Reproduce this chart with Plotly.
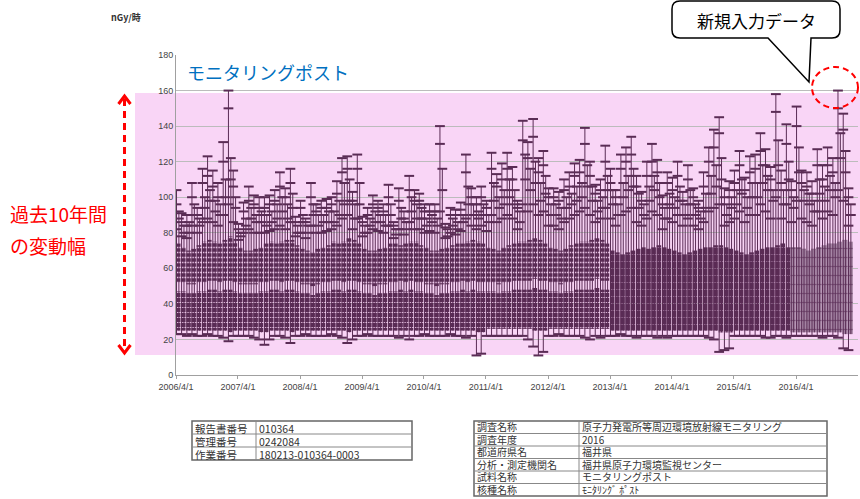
import pandas as pd
import plotly.graph_objects as go

# ---- monthly records, one row per fiscal year (Apr .. Mar), nGy/h ----
month_max = [
    104, 91, 90, 108, 94, 116, 123, 115, 108, 131, 160, 115,   # FY2006
    85, 97, 106, 101, 100, 100, 101, 104, 114, 105, 116, 89,    # FY2007
    98, 88, 108, 96, 98, 99, 100, 109, 122, 123, 103, 124,      # FY2008
    89, 94, 101, 98, 96, 107, 86, 105, 92, 112, 104, 102,       # FY2009
    96, 96, 96, 140, 85, 94, 93, 97, 124, 105, 100, 106,        # FY2010
    98, 125, 113, 119, 125, 117, 98, 143, 131, 144, 122, 126,   # FY2011
    105, 105, 103, 110, 114, 119, 121, 139, 120, 107, 110, 129, # FY2012
    116, 104, 124, 128, 134, 112, 103, 120, 130, 121, 101, 114, # FY2013
    111, 120, 103, 118, 105, 98, 114, 128, 138, 145, 105, 109,  # FY2014
    115, 126, 111, 123, 124, 136, 127, 117, 158, 115, 141, 109, # FY2015
    151, 115, 114, 109, 127, 118, 128, 122, 160, 147, 105,      # FY2016
]
month_min = [
    23, 23, 22, 23, 22, 22, 23, 22, 22, 21, 19, 22,
    22, 22, 22, 21, 20, 17, 20, 22, 22, 21, 18, 22,
    22, 23, 22, 22, 22, 22, 23, 22, 21, 18, 20, 22,
    22, 23, 22, 22, 22, 22, 22, 21, 22, 20, 22, 22,
    23, 22, 22, 22, 22, 23, 22, 22, 21, 22, 11, 12,
    22, 22, 22, 22, 22, 22, 22, 22, 20, 16, 11, 13,
    22, 22, 23, 22, 22, 22, 22, 21, 20, 22, 21, 22,
    22, 22, 23, 22, 22, 21, 22, 22, 22, 21, 22, 21,
    22, 22, 22, 22, 22, 22, 22, 21, 20, 13, 14, 15,
    22, 22, 22, 22, 22, 22, 21, 21, 22, 22, 21, 22,
    22, 22, 22, 22, 22, 21, 22, 22, 21, 15, 14,
]
# secondary station maxima (mid-month whiskers)
second_max = [
    92, 84, 86, 96, 88, 100, 104, 98, 96, 110, 122, 100,
    80, 88, 94, 90, 92, 90, 92, 96, 100, 96, 102, 84,
    90, 84, 96, 90, 90, 92, 92, 98, 108, 110, 96, 108,
    84, 88, 92, 90, 90, 96, 82, 94, 86, 100, 96, 94,
    88, 90, 88, 116, 82, 88, 86, 90, 106, 96, 92, 96,
    90, 108, 100, 104, 110, 104, 92, 124, 116, 120, 108, 112,
    96, 96, 94, 100, 102, 106, 108, 118, 106, 98, 100, 112,
    104, 96, 108, 112, 116, 102, 96, 106, 112, 108, 94, 102,
    100, 106, 96, 104, 96, 92, 102, 112, 118, 122, 96, 100,
    104, 110, 100, 108, 108, 118, 112, 104, 132, 104, 120, 100,
    128, 104, 102, 98, 110, 106, 112, 108, 136, 126, 96,
]
# intermediate caps along the main whiskers
third_max = [
    96, 86, 84, 100, 90, 108, 112, 106, 100, 120, 150, 106,
    82, 92, 98, 96, 94, 94, 96, 98, 106, 100, 108, 86,
    94, 86, 100, 92, 94, 94, 96, 102, 114, 116, 98, 116,
    86, 90, 96, 94, 92, 100, 84, 98, 88, 104, 98, 98,
    92, 92, 92, 130, 83, 90, 90, 93, 114, 100, 96, 100,
    94, 116, 106, 110, 116, 110, 94, 132, 122, 134, 114, 118,
    100, 100, 98, 104, 106, 112, 114, 130, 112, 102, 104, 120,
    108, 100, 116, 120, 124, 106, 98, 112, 120, 114, 96, 108,
    104, 112, 98, 110, 100, 94, 106, 120, 128, 136, 100, 104,
    108, 118, 104, 114, 116, 126, 118, 110, 148, 108, 130, 104,
    140, 108, 106, 102, 118, 110, 118, 114, 150, 138, 100,
]
# further station maxima just above the dense band
upper_cap_a = [
    88, 80, 80, 90, 84, 94, 98, 92, 90, 100, 110, 94,
    78, 84, 88, 86, 86, 84, 86, 88, 92, 88, 94, 80,
    86, 80, 90, 84, 86, 86, 86, 90, 96, 98, 88, 96,
    80, 84, 86, 86, 84, 90, 79, 88, 82, 92, 88, 88,
    84, 86, 84, 104, 78, 84, 82, 86, 96, 90, 88, 90,
    86, 98, 94, 96, 100, 96, 86, 110, 104, 108, 98, 102,
    90, 90, 88, 94, 96, 98, 100, 106, 98, 92, 94, 104,
    96, 90, 100, 104, 106, 94, 90, 98, 104, 100, 88, 96,
    94, 98, 90, 96, 90, 88, 94, 102, 106, 110, 90, 94,
    96, 102, 94, 100, 100, 108, 104, 98, 118, 96, 110, 94,
    114, 98, 96, 92, 102, 98, 104, 100, 122, 114, 90,
]
upper_cap_b = [
    82, 78, 77, 84, 80, 86, 88, 86, 84, 90, 96, 86,
    76, 80, 82, 80, 80, 80, 81, 82, 84, 82, 86, 78,
    80, 77, 84, 80, 80, 81, 82, 84, 88, 90, 82, 88,
    78, 80, 82, 81, 80, 84, 77, 82, 79, 86, 82, 82,
    80, 81, 80, 92, 77, 80, 79, 81, 88, 84, 82, 84,
    81, 90, 86, 88, 90, 88, 82, 96, 92, 96, 90, 92,
    84, 84, 82, 86, 88, 90, 92, 94, 90, 86, 88, 94,
    88, 84, 90, 92, 94, 86, 84, 88, 92, 90, 82, 88,
    86, 90, 84, 88, 84, 82, 86, 92, 94, 96, 84, 86,
    88, 92, 86, 90, 90, 96, 92, 88, 100, 88, 96, 86,
    98, 88, 86, 84, 92, 88, 92, 90, 104, 98, 84,
]
# dense band of station readings: floor and ceiling
bulk_floor = [
    25, 25, 25, 25, 25, 25, 25, 25, 25, 25, 24, 25,
    25, 25, 25, 25, 24, 24, 25, 25, 25, 25, 24, 25,
    25, 25, 25, 25, 25, 25, 25, 25, 25, 24, 25, 25,
    25, 25, 25, 25, 25, 25, 25, 25, 25, 25, 25, 25,
    25, 25, 25, 25, 25, 25, 25, 25, 25, 25, 24, 24,
    26, 26, 26, 26, 26, 26, 26, 26, 26, 25, 25, 25,
    26, 26, 26, 26, 26, 26, 26, 26, 26, 26, 26, 26,
    25, 25, 25, 25, 25, 25, 25, 25, 25, 25, 25, 25,
    25, 25, 25, 25, 25, 25, 25, 25, 25, 24, 24, 24,
    25, 25, 25, 25, 25, 25, 25, 25, 25, 25, 25, 24,
    24, 24, 24, 24, 24, 24, 24, 24, 24, 23, 23,
]
bulk_ceiling = [
    74, 72, 70, 71, 73, 75, 76, 75, 74, 76, 78, 75,
    72, 70, 70, 71, 72, 74, 75, 74, 75, 76, 76, 73,
    71, 70, 69, 71, 72, 73, 75, 74, 75, 77, 76, 74,
    71, 70, 70, 71, 72, 74, 74, 73, 74, 75, 75, 73,
    72, 70, 70, 71, 72, 73, 74, 74, 75, 76, 75, 74,
    72, 71, 70, 72, 73, 74, 75, 75, 76, 77, 76, 74,
    72, 71, 70, 71, 73, 74, 75, 75, 76, 77, 76, 74,
    70, 69, 68, 69, 70, 71, 72, 71, 72, 73, 72, 71,
    70, 69, 68, 69, 70, 71, 72, 72, 73, 73, 72, 71,
    70, 69, 68, 69, 70, 71, 72, 72, 73, 74, 72, 72,
    72, 71, 70, 71, 72, 73, 74, 74, 75, 76, 75,
]
# thinner stretch inside the band (until FY2012)
gap_low = [
    47, 47, 46, 46, 47, 47, 48, 48, 47, 48, 48, 47,
    46, 46, 46, 46, 47, 47, 48, 48, 47, 48, 48, 47,
    46, 46, 45, 46, 47, 47, 48, 48, 47, 48, 48, 47,
    46, 46, 45, 46, 46, 47, 47, 48, 47, 48, 47, 47,
    46, 46, 45, 46, 46, 47, 47, 48, 47, 48, 47, 47,
    47, 47, 46, 47, 47, 48, 48, 48, 48, 49, 48, 48,
    47, 47, 46, 47, 47, 48, 48, 48, 48, 49, 48, 48,
]
gap_high = [
    52, 52, 51, 51, 52, 52, 53, 53, 52, 53, 53, 52,
    51, 51, 51, 51, 52, 52, 53, 53, 52, 53, 53, 52,
    51, 51, 50, 51, 52, 52, 53, 53, 52, 53, 53, 52,
    51, 51, 50, 51, 51, 52, 52, 53, 52, 53, 52, 52,
    51, 51, 50, 51, 51, 52, 52, 53, 52, 53, 52, 52,
    52, 52, 51, 52, 52, 53, 53, 53, 53, 54, 53, 53,
    52, 52, 51, 52, 52, 53, 53, 53, 53, 54, 53, 53,
]

year_ticks = ["2006-04-01", "2007-04-01", "2008-04-01", "2009-04-01", "2010-04-01",
              "2011-04-01", "2012-04-01", "2013-04-01", "2014-04-01", "2015-04-01",
              "2016-04-01"]
year_labels = ["2006/4/1", "2007/4/1", "2008/4/1", "2009/4/1", "2010/4/1", "2011/4/1",
               "2012/4/1", "2013/4/1", "2014/4/1", "2015/4/1", "2016/4/1"]

report_labels = ["報告書番号", "管理番号", "作業番号"]
report_values = ["010364", "0242084", "180213-010364-0003"]
survey_labels = ["調査名称", "調査年度", "都道府県名", "分析・測定機関名", "試料名称", "核種名称"]
survey_values = ["原子力発電所等周辺環境放射線モニタリング", "2016", "福井県",
                 "福井県原子力環境監視センター", "モニタリングポスト", "ﾓﾆﾀﾘﾝｸﾞ ﾎﾟｽﾄ"]

# ---- styling ----
DARK = "#5a2c55"
LIGHT = "#a383a2"
PINK = "#f9d5f6"
GRID = "#bcbcbc"
JP = "Noto Sans CJK JP"
LAT = "Liberation Sans"
ERA_SOLID = pd.Timestamp("2013-04-01")
ERA_LIGHT = pd.Timestamp("2016-03-01")

W, H = 860, 499
L, R, T, B = 176, 2, 55, 124
PW, PH = W - L - R, H - T - B


def px(x):
    return (x - L) / PW


def py(y):
    return (H - B - y) / PH


months = pd.date_range("2006-04-01", periods=len(month_max), freq="MS")
ds = lambda d: d.strftime("%Y-%m-%d")
bar_x = [ds(m + pd.Timedelta(days=13)) for m in months]
mid_x = [ds(m + pd.Timedelta(days=17)) for m in months]
main_x = [ds(m + pd.Timedelta(days=3)) for m in months]
bar_w = 27 * 86400000
full_w = 31 * 86400000

fig = go.Figure()


def band(idx, base, top, color, fg, solidity, size, width=bar_w):
    fig.add_trace(go.Bar(
        x=[bar_x[i] for i in idx],
        base=[base[i] for i in idx],
        y=[top[i] - base[i] for i in idx],
        width=width,
        marker=dict(color=color, line=dict(width=0),
                    pattern=dict(shape="-", fgcolor=fg, bgcolor=color,
                                 size=size, solidity=solidity, fillmode="replace")),
        hoverinfo="skip", showlegend=False))


era_a = [i for i, m in enumerate(months) if m < ERA_SOLID]
era_b = [i for i, m in enumerate(months) if ERA_SOLID <= m < ERA_LIGHT]
era_c = [i for i, m in enumerate(months) if m >= ERA_LIGHT]

band(era_a, bulk_floor, gap_low, DARK, "#e6bfe2", 0.18, 5)
band(era_a, gap_high, bulk_ceiling, DARK, "#e6bfe2", 0.3, 5)
band(era_b, bulk_floor, bulk_ceiling, DARK, "#d9b0d5", 0.06, 7)

# whiskers
wx, wy = [], []
for i in range(len(months)):
    wx += [main_x[i], main_x[i], None, mid_x[i], mid_x[i], None]
    wy += [month_min[i], month_max[i], None, bulk_floor[i], second_max[i], None]
fig.add_trace(go.Scatter(x=wx, y=wy, mode="lines", line=dict(color=DARK, width=1),
                         hoverinfo="skip", showlegend=False))

# latest months: lighter block drawn over its whiskers
band(era_c, bulk_floor, bulk_ceiling, LIGHT, "#7a5378", 0.14, 9, width=full_w)

# caps
cx = main_x * 4 + mid_x * 2
cy = month_max + third_max + month_min + upper_cap_b + second_max + upper_cap_a
fig.add_trace(go.Scatter(x=cx, y=cy, mode="markers",
                         marker=dict(symbol="line-ew", size=7, color=DARK,
                                     line=dict(color=DARK, width=2)),
                         hoverinfo="skip", showlegend=False))

shapes = []
annotations = []


def note(x, y, text, size, color, xanchor="left", family=JP, height=None):
    ann = dict(xref="paper", yref="paper", x=px(x), y=py(y), text=text,
               xanchor=xanchor, yanchor="middle", showarrow=False,
               borderpad=0, font=dict(family=family, size=size, color=color))
    if height:
        ann["height"] = height
    annotations.append(ann)


# pink range band
shapes.append(dict(type="rect", xref="paper", yref="paper", layer="below",
                   x0=px(135), x1=px(860), y0=py(355), y1=py(93),
                   fillcolor=PINK, line=dict(width=0)))

# red dashed double arrow
shapes.append(dict(type="line", xref="paper", yref="paper",
                   x0=px(124.5), x1=px(124.5), y0=py(99), y1=py(350),
                   line=dict(color="#ff0000", width=3, dash="7px,5px")))
for tip, back in ((96, 104), (353, 345)):
    shapes.append(dict(type="path", xref="paper", yref="paper",
                       path=f"M{px(118.5)},{py(back)} L{px(124.5)},{py(tip)} L{px(130.5)},{py(back)}",
                       line=dict(color="#ff0000", width=3)))

# red dashed circle around the newest reading
shapes.append(dict(type="circle", xref="paper", yref="paper",
                   x0=px(812), x1=px(858), y0=py(108), y1=py(67),
                   line=dict(color="#ff0000", width=2, dash="6px,4px")))


# callout balloon
def P(x, y):
    return f"{px(x):.5f},{py(y):.5f}"


balloon = (f"M{P(680, 1)} L{P(832, 1)} Q{P(840, 1)} {P(840, 9)} L{P(840, 30)} "
           f"Q{P(840, 38)} {P(832, 38)} L{P(811, 38)} L{P(809, 82)} L{P(768, 38)} "
           f"L{P(680, 38)} Q{P(672, 38)} {P(672, 30)} L{P(672, 9)} Q{P(672, 1)} {P(680, 1)} Z")
shapes.append(dict(type="path", xref="paper", yref="paper", path=balloon,
                   fillcolor="white", line=dict(color="black", width=1.5)))
note(756, 20, "新規入力データ", 17, "black", xanchor="center")

note(186, 72, "モニタリングポスト", 18, "#0070c0")
note(9, 213, "過去10年間", 19, "#ff0000")
note(9, 245, "の変動幅", 19, "#ff0000")
note(110, 17, "<b>nGy/時</b>", 9, "#333333")


def table(x0, x1, xdiv, y0, row_h, labels, values, size):
    y1 = y0 + row_h * len(labels)
    shapes.append(dict(type="rect", xref="paper", yref="paper",
                       x0=px(x0), x1=px(x1), y0=py(y1), y1=py(y0),
                       line=dict(color="#666666", width=1.5)))
    shapes.append(dict(type="line", xref="paper", yref="paper",
                       x0=px(xdiv), x1=px(xdiv), y0=py(y1), y1=py(y0),
                       line=dict(color="#888888", width=1)))
    for i, (lab, val) in enumerate(zip(labels, values)):
        yc = y0 + row_h * (i + 0.5)
        if i:
            yl = y0 + row_h * i
            shapes.append(dict(type="line", xref="paper", yref="paper",
                               x0=px(x0), x1=px(x1), y0=py(yl), y1=py(yl),
                               line=dict(color="#888888", width=1)))
        note(x0 + 2, yc, lab, size, "#333333", height=row_h - 1)
        note(xdiv + 2, yc, val, size, "#333333", height=row_h - 1)


table(192, 412, 256, 421, 13, report_labels, report_values, 10.5)
table(474, 827, 579, 421, 12.5, survey_labels, survey_values, 10)

fig.update_layout(
    width=W, height=H, margin=dict(l=L, r=R, t=T, b=B, autoexpand=False),
    paper_bgcolor="white", plot_bgcolor="rgba(0,0,0,0)",
    barmode="overlay", showlegend=False,
    shapes=shapes, annotations=annotations,
    xaxis=dict(type="date", range=["2006-04-01", "2017-04-01"],
               tickvals=year_ticks, ticktext=year_labels, showgrid=False,
               showline=True, linecolor="#a0a0a0", linewidth=1,
               ticks="outside", ticklen=3, tickcolor="#a0a0a0",
               tickfont=dict(family=LAT, size=9, color="#444444")),
    yaxis=dict(range=[0, 180], dtick=20, showgrid=True, gridcolor=GRID, gridwidth=1,
               zeroline=False, showline=True, linecolor="#a0a0a0", linewidth=1,
               ticks="", tickfont=dict(family=LAT, size=9, color="#444444")),
)

fig.write_html("out.html")
